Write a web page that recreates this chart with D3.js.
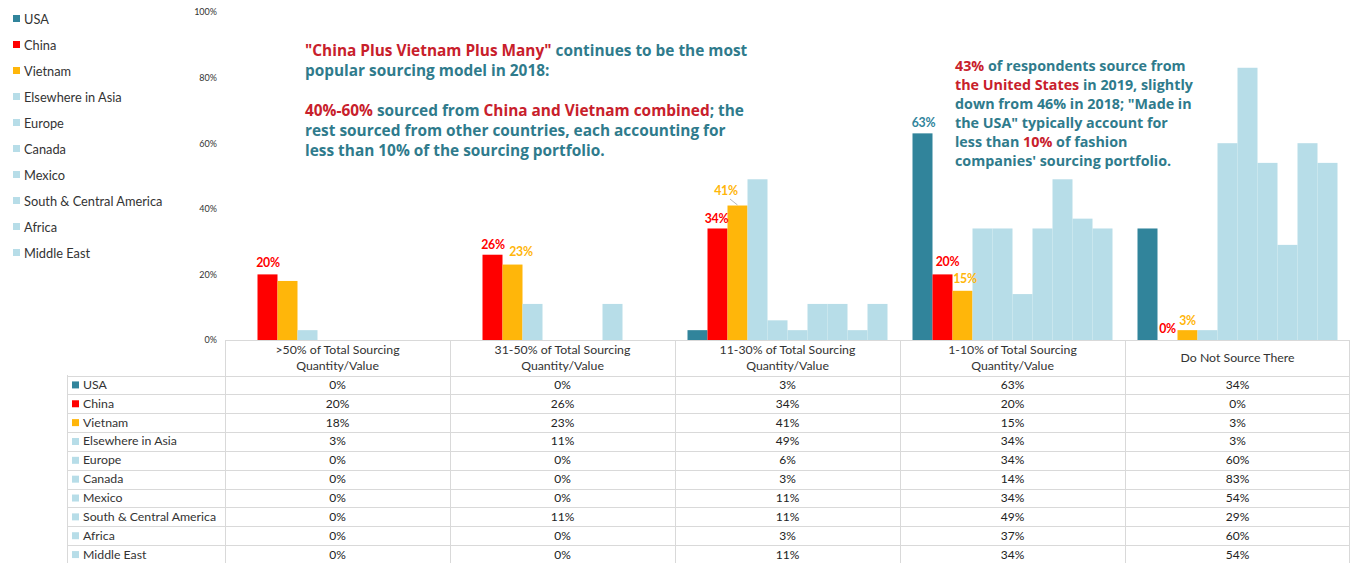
<!DOCTYPE html>
<html>
<head>
<meta charset="utf-8">
<script src="https://cdnjs.cloudflare.com/ajax/libs/d3/7.8.5/d3.min.js"></script>
<style>
  html, body { margin: 0; padding: 0; background: #fff; }
  svg { display: block; font-family: Lato, "Open Sans", sans-serif; }
  .anno { font-family: "Open Sans", Lato, sans-serif; }
</style>
</head>
<body>
<svg id="chart" width="1352" height="563"></svg>
<script>
// ---------- DATA ----------
const categories = [
  ">50% of Total Sourcing\nQuantity/Value",
  "31-50% of Total Sourcing\nQuantity/Value",
  "11-30% of Total Sourcing\nQuantity/Value",
  "1-10% of Total Sourcing\nQuantity/Value",
  "Do Not Source There"
];
const seriesNames = ["USA", "China", "Vietnam", "Elsewhere in Asia", "Europe", "Canada", "Mexico", "South & Central America", "Africa", "Middle East"];
const usa        = [0, 0, 3, 63, 34];
const china      = [20, 26, 34, 20, 0];
const vietnam    = [18, 23, 41, 15, 3];
const elsewhere  = [3, 11, 49, 34, 3];
const europe     = [0, 0, 6, 34, 60];
const canada     = [0, 0, 3, 14, 83];
const mexico     = [0, 0, 11, 34, 54];
const southCentralAmerica = [0, 11, 11, 49, 29];
const africa     = [0, 0, 3, 37, 60];
const middleEast = [0, 0, 11, 34, 54];
const yTicks = [0, 20, 40, 60, 80, 100];

const seriesValues = [usa, china, vietnam, elsewhere, europe, canada, mexico, southCentralAmerica, africa, middleEast];

// labelled bars: [seriesIndex, categoryIndex]
const labelledBars = [[1,0],[1,1],[2,1],[1,2],[2,2],[0,3],[1,3],[2,3],[1,4],[2,4]];

// ---------- STYLE ----------
const colors = ["#31849B", "#FF0000", "#FFB60A", "#B7DDE8", "#B7DDE8", "#B7DDE8", "#B7DDE8", "#B7DDE8", "#B7DDE8", "#B7DDE8"];
const labelColors = ["#31849B", "#FF0000", "#FFB60A"];
const teal = "#2F7B8C", red = "#C8202B";

const svg = d3.select("#chart");

const x = d3.scaleBand().domain(categories).range([225, 1350]);
const xs = d3.scaleBand().domain(seriesNames).range([12.5, 212.5]);
const y = d3.scaleLinear().domain([0, 100]).range([340, 12]);

// ---------- Y AXIS ----------
const yAxis = svg.append("g").attr("transform", "translate(217,0)")
  .call(d3.axisLeft(y).tickValues(yTicks).tickSize(0).tickPadding(0).tickFormat(d => d + "%"));
yAxis.select(".domain").remove();
yAxis.attr("font-family", null);
yAxis.selectAll("text").attr("font-size", 9).attr("fill", "#333");

// ---------- BARS ----------
const barData = [];
seriesNames.forEach((s, si) => categories.forEach((c, ci) => barData.push({s, si, c, ci, v: seriesValues[si][ci]})));
svg.append("g").selectAll("rect").data(barData).join("rect")
  .attr("x", d => x(d.c) + xs(d.s))
  .attr("width", xs.bandwidth())
  .attr("y", d => y(d.v))
  .attr("height", d => y(0) - y(d.v))
  .attr("fill", d => colors[d.si]);

// ---------- BAR LABELS ----------
const labelOffsets = {
  "1-0": [0.5, -7], "1-1": [0.5, -6], "2-1": [8.5, -8.5], "1-2": [-1, -5], "2-2": [-11.5, -10.5],
  "0-3": [1, -6], "1-3": [5, -8], "2-3": [2.5, -8], "1-4": [0, -7], "2-4": [0, -5.5]
};
const lbl = svg.append("g");
labelledBars.forEach(([si, ci]) => {
  const v = seriesValues[si][ci];
  const off = labelOffsets[si + "-" + ci];
  const bx = x(categories[ci]) + xs(seriesNames[si]) + xs.bandwidth() / 2;
  const cx = bx + off[0];
  const cy = y(v) + off[1];
  lbl.append("text")
    .attr("x", cx).attr("y", cy)
    .attr("text-anchor", "middle")
    .attr("font-size", 12.3).attr("font-weight", 700)
    .attr("letter-spacing", -0.3)
    .attr("fill", labelColors[si])
    .text(v + "%");
  if (si === 2 && ci === 2) {
    lbl.append("line")
      .attr("x1", cx + 4).attr("y1", cy + 4)
      .attr("x2", bx).attr("y2", y(v) - 0.5)
      .attr("stroke", "#A6A6A6").attr("stroke-width", 0.8);
  }
});

// ---------- LEGEND ----------
const legend = svg.append("g");
seriesNames.forEach((s, i) => {
  const yy = 19 + i * 26;
  legend.append("rect").attr("x", 13).attr("y", yy - 4).attr("width", 7).attr("height", 7).attr("fill", colors[i]);
  legend.append("text").attr("x", 24).attr("y", yy + 4.5).attr("font-size", 12.8).attr("fill", "#333").text(s);
});

// ---------- ANNOTATIONS ----------
function richText(xPos, yStart, lh, lines, size) {
  const t = svg.append("text").attr("class", "anno").attr("font-size", size).attr("font-weight", 700);
  lines.forEach((parts, i) => {
    parts.forEach((p, j) => {
      const ts = t.append("tspan").attr("fill", p[1] ? red : teal).text(p[0]);
      if (j === 0) ts.attr("x", xPos).attr("y", yStart + i * lh);
    });
  });
}
richText(305, 55.5, 20, [
  [["\"China Plus Vietnam Plus Many\"", 1], [" continues to be the most", 0]],
  [["popular sourcing model in 2018:", 0]],
  [],
  [["40%-60%", 1], [" sourced from ", 0], ["China and Vietnam combined", 1], ["; the", 0]],
  [["rest sourced from other countries, each accounting for", 0]],
  [["less than 10% of the sourcing portfolio.", 0]]
], 15.4);
richText(955, 71, 19, [
  [["43%", 1], [" of respondents source from", 0]],
  [["the United States", 1], [" in 2019, slightly", 0]],
  [["down from 46% in 2018; \"Made in", 0]],
  [["the USA\" typically account for", 0]],
  [["less than ", 0], ["10%", 1], [" of fashion", 0]],
  [["companies' sourcing portfolio.", 0]]
], 14.3);

// ---------- TABLE ----------
const rowY = d3.scaleBand().domain(seriesNames).range([375.5, 564]);
const tbl = svg.append("g");
const gridColor = "#D9D9D9";
tbl.append("line").attr("x1", 225).attr("x2", 1350).attr("y1", 340.5).attr("y2", 340.5).attr("stroke", gridColor);
seriesNames.forEach(s => {
  tbl.append("line").attr("x1", 67).attr("x2", 1350).attr("y1", Math.round(rowY(s)) + 0.5).attr("y2", Math.round(rowY(s)) + 0.5).attr("stroke", gridColor);
});
categories.forEach(c => {
  tbl.append("line").attr("x1", Math.round(x(c)) + 0.5).attr("x2", Math.round(x(c)) + 0.5).attr("y1", 340).attr("y2", 563).attr("stroke", gridColor);
});
tbl.append("line").attr("x1", 1349.5).attr("x2", 1349.5).attr("y1", 340).attr("y2", 563).attr("stroke", gridColor);
tbl.append("line").attr("x1", 67.5).attr("x2", 67.5).attr("y1", 375).attr("y2", 563).attr("stroke", gridColor);

categories.forEach(c => {
  const lines = c.split("\n");
  const cx = x(c) + x.bandwidth() / 2;
  const startY = lines.length === 1 ? 362 : 354;
  const t = tbl.append("text").attr("text-anchor", "middle").attr("font-size", 12.3).attr("fill", "#333");
  lines.forEach((l, i) => t.append("tspan").attr("x", cx).attr("y", startY + i * 16).text(l));
});
seriesNames.forEach((s, si) => {
  const cy = rowY(s) + rowY.bandwidth() / 2;
  tbl.append("rect").attr("x", 72).attr("y", cy - 3.5).attr("width", 7).attr("height", 7).attr("fill", colors[si]);
  tbl.append("text").attr("x", 83).attr("y", cy + 4).attr("font-size", 12.3).attr("fill", "#333").text(s);
  categories.forEach((c, ci) => {
    tbl.append("text").attr("x", x(c) + x.bandwidth() / 2).attr("y", cy + 4)
      .attr("text-anchor", "middle").attr("font-size", 12).attr("fill", "#222")
      .text(seriesValues[si][ci] + "%");
  });
});
</script>
</body>
</html>
